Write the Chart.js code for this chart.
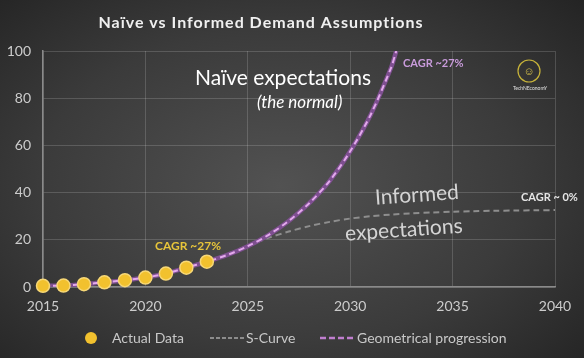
<!DOCTYPE html>
<html>
<head>
<meta charset="utf-8">
<script src="https://cdn.jsdelivr.net/npm/chart.js@4/dist/chart.umd.min.js"></script>
<style>
  html, body { margin: 0; padding: 0; }
  body {
    width: 584px; height: 358px; overflow: hidden;
    background: radial-gradient(ellipse 75% 80% at 48% 52%, #525252 0%, #3b3b3b 55%, #212121 100%);
  }
  #wrap { position: relative; width: 584px; height: 358px; }
  canvas { display: block; }
</style>
</head>
<body>
<div id="wrap"><canvas id="chart" width="584" height="358"></canvas></div>
<script>
// data
const actualYears = [2015, 2016, 2017, 2018, 2019, 2020, 2021, 2022, 2023];
const actualValues = [0.5, 0.6, 1.2, 2.0, 2.9, 4.0, 5.7, 8.2, 10.7];

const geoYears = [2015, 2016, 2017, 2018, 2019, 2020, 2021, 2022, 2023, 2024, 2025, 2026, 2027, 2028, 2029, 2030, 2031, 2032, 2032.25];
const geoValues = [0.5, 0.6, 1.2, 2.0, 2.9, 4.0, 5.7, 8.2, 10.7, 13.6, 17.3, 22, 28, 35.5, 45, 57.5, 73, 93, 100];

const sYears = [2015, 2016, 2017, 2018, 2019, 2020, 2021, 2022, 2023, 2024, 2025, 2026, 2027, 2028, 2029, 2030, 2031, 2032, 2033, 2034, 2035, 2036, 2037, 2038, 2039, 2040];
const sValues = [0.5, 0.6, 1.2, 2.0, 2.9, 4.0, 5.7, 8.2, 10.7, 14, 17.5, 20.8, 23.5, 25.8, 27.6, 29, 30, 30.7, 31.2, 31.6, 31.9, 32.1, 32.3, 32.4, 32.5, 32.6];

const xTicks = [2015, 2020, 2025, 2030, 2035, 2040];
const yTicks = [0, 20, 40, 60, 80, 100];

const FONT = 'Lato, "Open Sans", sans-serif';
const pts = (xs, ys) => xs.map((x, i) => ({ x: x, y: ys[i] }));

const overlay = {
  id: 'overlay',
  afterDraw(chart) {
    const ctx = chart.ctx;
    ctx.save();
    ctx.textBaseline = 'middle';

    // title
    ctx.fillStyle = '#f0f0f0';
    ctx.font = 'bold 16px ' + FONT;
    ctx.letterSpacing = '1px';
    ctx.textAlign = 'center';
    ctx.fillText('Naïve vs Informed Demand Assumptions', 261, 23);
    ctx.letterSpacing = '0px';

    // naive text
    ctx.textAlign = 'left';
    ctx.fillStyle = '#ffffff';
    ctx.font = '21px ' + FONT;
    ctx.fillText('Naïve expectations', 195, 78);
    ctx.font = 'italic 17px ' + FONT;
    ctx.fillText('(the normal)', 257, 103);

    // informed text
    ctx.fillStyle = '#d4d4d4';
    ctx.font = '21px ' + FONT;
    ctx.save();
    ctx.translate(375, 198);
    ctx.rotate(-4 * Math.PI / 180);
    ctx.fillText('Informed', 0, 0);
    ctx.restore();
    ctx.save();
    ctx.translate(345, 234);
    ctx.rotate(-4 * Math.PI / 180);
    ctx.fillText('expectations', 0, 0);
    ctx.restore();

    // CAGR labels
    ctx.font = 'bold 11px ' + FONT;
    ctx.fillStyle = '#c99bdb';
    ctx.fillText('CAGR ~27%', 403, 63);
    ctx.fillStyle = '#e8c53a';
    ctx.font = 'bold 12px ' + FONT;
    ctx.fillText('CAGR ~27%', 155, 246);
    ctx.fillStyle = '#e6e6e6';
    ctx.font = 'bold 11px ' + FONT;
    ctx.fillText('CAGR ~ 0%', 521, 197);

    // logo
    ctx.strokeStyle = '#c8b43a';
    ctx.lineWidth = 1.2;
    ctx.beginPath();
    ctx.arc(529, 71, 11, 0, Math.PI * 2);
    ctx.stroke();
    ctx.fillStyle = '#d8c24a';
    ctx.font = 'bold 11px ' + FONT;
    ctx.textAlign = 'center';
    ctx.fillText('☺', 529, 71);
    ctx.fillStyle = '#e0e0e0';
    ctx.font = '5px ' + FONT;
    ctx.fillText('TechNEconomY', 530, 88);

    // legend
    const ly = 338;
    ctx.textAlign = 'left';
    ctx.font = '14px ' + FONT;
    ctx.fillStyle = '#f2c12e';
    ctx.beginPath();
    ctx.arc(91, ly, 6, 0, Math.PI * 2);
    ctx.fill();
    ctx.fillStyle = '#c8c8c8';
    ctx.fillText('Actual Data', 112, ly);

    ctx.strokeStyle = '#8c8c8c';
    ctx.lineWidth = 2;
    ctx.setLineDash([4, 2]);
    ctx.beginPath();
    ctx.moveTo(210, ly); ctx.lineTo(245, ly);
    ctx.stroke();
    ctx.fillText('S-Curve', 246, ly);

    ctx.strokeStyle = '#c07fcf';
    ctx.lineWidth = 2.5;
    ctx.setLineDash([6, 3]);
    ctx.beginPath();
    ctx.moveTo(320, ly); ctx.lineTo(356, ly);
    ctx.stroke();
    ctx.setLineDash([]);
    ctx.fillText('Geometrical progression', 357, ly);

    ctx.restore();
  }
};

new Chart(document.getElementById('chart'), {
  type: 'line',
  data: {
    datasets: [
      {
        label: 'Actual Data',
        data: pts(actualYears, actualValues),
        showLine: false,
        clip: false,
        pointRadius: 6.5,
        pointBackgroundColor: '#f2c12e',
        pointBorderColor: '#f7d877',
        pointBorderWidth: 1.5,
        order: 0
      },
      {
        label: 'Geometrical progression',
        data: pts(geoYears, geoValues),
        borderColor: '#e3a9ec',
        borderWidth: 2,
        borderDash: [6, 4],
        pointRadius: 0,
        tension: 0.3,
        fill: false,
        order: 1
      },
      {
        label: 'geo base',
        data: pts(geoYears, geoValues),
        borderColor: '#7e4f90',
        borderWidth: 4.5,
        pointRadius: 0,
        tension: 0.3,
        fill: false,
        order: 2
      },
      {
        label: 'S-Curve',
        data: pts(sYears, sValues),
        borderColor: '#8e8e8e',
        borderWidth: 2,
        borderDash: [6, 4],
        pointRadius: 0,
        tension: 0.3,
        fill: false,
        order: 3
      }
    ]
  },
  options: {
    responsive: false,
    animation: false,
    events: [],
    layout: { padding: { top: 51, right: 29, bottom: 41, left: 0 } },
    plugins: { legend: { display: false }, title: { display: false }, tooltip: { enabled: false } },
    scales: {
      x: {
        type: 'linear',
        min: 2015, max: 2040,
        afterBuildTicks: s => { s.ticks = xTicks.map(v => ({ value: v })); },
        afterFit: s => { s.height = 30; },
        grid: { color: 'rgba(255,255,255,0.16)', lineWidth: 1, drawTicks: false },
        border: { color: '#8a8a8a', width: 1.5 },
        ticks: { color: '#cccccc', font: { family: FONT, size: 14 }, padding: 11, callback: v => String(v) }
      },
      y: {
        min: 0, max: 100,
        afterBuildTicks: s => { s.ticks = yTicks.map(v => ({ value: v })); },
        afterFit: s => { s.width = 43; },
        grid: { color: 'rgba(255,255,255,0.16)', lineWidth: 1, drawTicks: false },
        border: { color: '#8a8a8a', width: 1.5 },
        ticks: { color: '#cccccc', font: { family: FONT, size: 14 }, padding: 12 }
      }
    }
  },
  plugins: [overlay]
});
</script>
</body>
</html>
